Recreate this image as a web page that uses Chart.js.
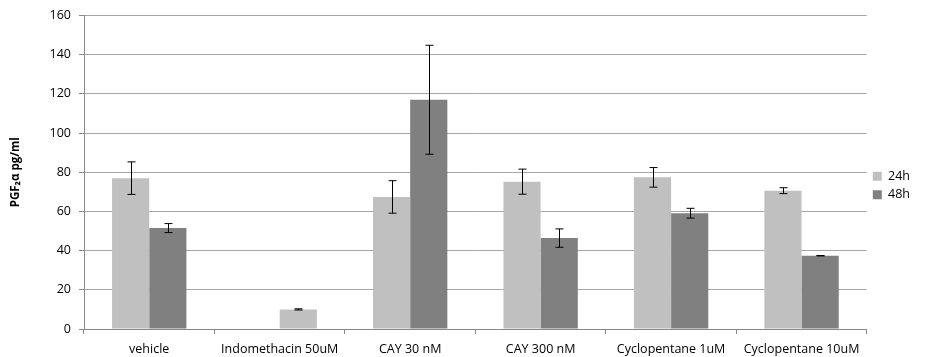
<!DOCTYPE html>
<html>
<head>
<meta charset="utf-8">
<script src="https://cdn.jsdelivr.net/npm/chart.js@4/dist/chart.umd.min.js"></script>
<style>
  html, body { margin: 0; padding: 0; background: #fff; }
  #wrap { width: 929px; height: 357px; }
</style>
</head>
<body>
<div id="wrap"><canvas id="pgfChart"></canvas></div>
<script>
  const categories = ["vehicle", "Indomethacin 50uM", "CAY 30 nM", "CAY 300 nM", "Cyclopentane 1uM", "Cyclopentane 10uM"];
  const values24h = [77, null, 67.4, 75.2, 77.4, 70.6];
  const errors24h = [8.3, null, 8.3, 6.4, 5, 1.5];
  // indomethacin bar sits in the second slot, light grey like 24h
  const values48h = [51.5, 10, 117, 46.4, 59.1, 37.4];
  const errors48h = [2.3, 0.3, 27.8, 4.7, 2.5, 0.1];
  const yTicks = [0, 20, 40, 60, 80, 100, 120, 140, 160];

  const light = "#c0c0c0";
  const dark = "#808080";

  // error bars drawn with the y scale
  const errorBars = {
    id: "errorBars",
    afterDatasetsDraw(chart) {
      const ctx = chart.ctx;
      const y = chart.scales.y;
      const errs = [errors24h, errors48h];
      ctx.save();
      ctx.strokeStyle = "#000";
      ctx.lineWidth = 1;
      chart.data.datasets.forEach((ds, i) => {
        const meta = chart.getDatasetMeta(i);
        meta.data.forEach((bar, j) => {
          const v = ds.data[j], e = errs[i][j];
          if (v == null || e == null) return;
          const x = Math.round(bar.x) + 0.5;
          const top = y.getPixelForValue(v + e);
          const bot = y.getPixelForValue(v - e);
          ctx.beginPath();
          ctx.moveTo(x, top); ctx.lineTo(x, bot);
          ctx.moveTo(x - 4, top); ctx.lineTo(x + 4, top);
          ctx.moveTo(x - 4, bot); ctx.lineTo(x + 4, bot);
          ctx.stroke();
        });
      });
      ctx.restore();
    }
  };

  new Chart(document.getElementById("pgfChart"), {
    type: "bar",
    data: {
      labels: categories,
      datasets: [{
        label: "24h",
        data: values24h,
        backgroundColor: light
      }, {
        label: "48h",
        data: values48h,
        backgroundColor: values48h.map((v, i) => i === 1 ? light : dark)
      }]
    },
    options: {
      responsive: true,
      maintainAspectRatio: false,
      animation: false,
      layout: { padding: { left: 0, top: 14, right: 9, bottom: 0 } },
      categoryPercentage: 0.57,
      barPercentage: 1,
      plugins: {
        legend: {
          position: "right",
          labels: {
            boxWidth: 9,
            boxHeight: 9,
            padding: 6,
            color: "#000",
            font: { family: "Open Sans", size: 12.5 },
            generateLabels: () => [
              { text: "24h", fillStyle: light, strokeStyle: light, lineWidth: 0 },
              { text: "48h", fillStyle: dark, strokeStyle: dark, lineWidth: 0 }
            ]
          }
        },
        tooltip: { enabled: false }
      },
      scales: {
        x: {
          offset: true,
          afterFit: s => { s.height = 28; },
          grid: { offset: true, drawOnChartArea: false, drawTicks: true, tickLength: 5, color: "#888" },
          border: { color: "#888" },
          ticks: { color: "#000", font: { family: "Open Sans", size: 12.5 }, maxRotation: 0, autoSkip: false, padding: 8 }
        },
        y: {
          min: 0,
          max: 160,
          afterBuildTicks: s => { s.ticks = yTicks.map(v => ({ value: v })); },
          afterFit: s => { s.width = 84; },
          grid: { color: "#a6a6a6", tickLength: 5, tickColor: "#888" },
          border: { color: "#888" },
          ticks: { color: "#000", font: { family: "Open Sans", size: 12.5 }, padding: 8 },
          title: {
            display: true,
            text: "PGF₂α pg/ml",
            color: "#000",
            font: { family: "Open Sans", size: 11.5, weight: "bold" },
            padding: { top: 9, bottom: 0 }
          }
        }
      }
    },
    plugins: [errorBars]
  });
</script>
</body>
</html>
